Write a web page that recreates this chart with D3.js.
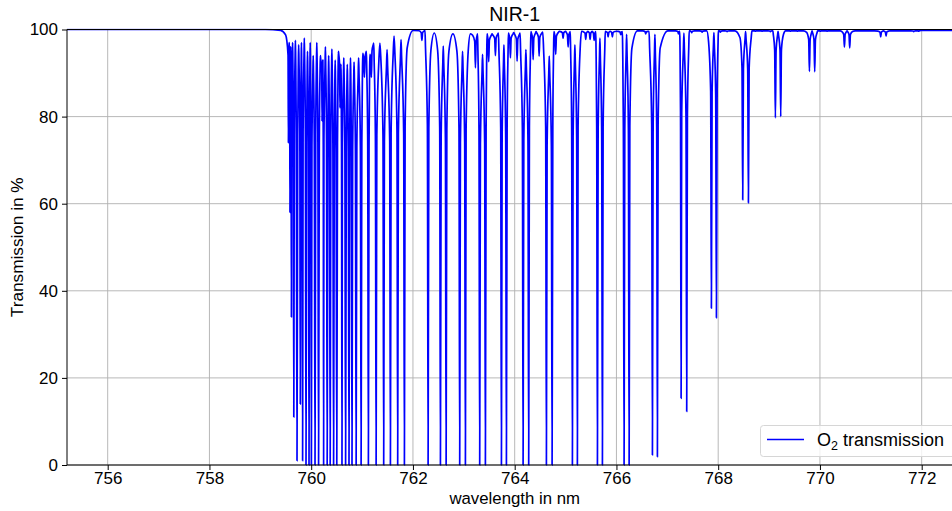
<!DOCTYPE html>
<html>
<head>
<meta charset="utf-8">
<style>
  body { margin: 0; background: #fff; font-family: "Liberation Sans", Arial, sans-serif; }
  svg { display: block; }
  .grid line { stroke: #b0b0b0; stroke-width: 0.9; }
  .axis text { font-size: 17px; fill: #000; font-family: "Liberation Sans", Arial, sans-serif; }
  .axis path, .axis line { stroke: #000; }
</style>
<title>NIR-1</title>
</head>
<body>
<div id="chart"></div>
<script src="https://cdn.jsdelivr.net/npm/d3@7"></script>
<script>
// flat part before the band head
var headNm = [755.2, 759.10, 759.40];
var headT = [100, 100, 99.8];

// absorption lines: centre (nm), minimum transmission (%), peak level up to next line (%)
var lineNm = [
  759.552, 759.583, 759.611, 759.658, 759.721, 759.786, 759.831, 759.898, 759.957, 760.004,
  760.075, 760.145, 760.214, 760.244, 760.314, 760.373, 760.440, 760.503, 760.566, 760.605,
  760.676, 760.743, 760.802, 760.883, 760.981, 761.046, 761.124, 761.183, 761.276, 761.425,
  761.557, 761.700, 761.832, 762.176, 762.298, 762.540, 762.652, 762.919, 763.031, 763.228,
  763.312, 763.424, 763.489, 763.621, 763.739, 763.837, 763.916, 764.047, 764.165, 764.275,
  764.362, 764.480, 764.623, 764.735, 764.806, 764.951, 765.050, 765.134, 765.232, 765.396,
  765.482, 765.561, 765.626, 765.724, 765.836, 765.920, 766.084, 766.150, 766.249, 766.575,
  766.707, 766.805, 767.218, 767.271, 767.381, 767.479, 767.684, 767.866, 767.965, 768.043,
  768.175, 768.482, 768.594, 768.731, 768.863, 769.026, 769.124, 769.229, 769.419, 769.557,
  769.793, 769.897, 770.009, 770.141, 770.314, 770.481, 770.585, 770.795, 770.952, 771.194,
  771.300, 771.444, 771.581, 771.843, 771.941
];
var lineMin = [
  74, 58, 34, 11, 1, 14, 1, 0, 0, 0,
  0, 0, 79, 0, 0, 0, 0, 0, 82, 0,
  0, 0, 0, 0, 0, 89, 0, 89, 0, 0,
  0, 0, 0, 97.5, 0, 0, 0, 0, 0, 91.2,
  0, 0, 92.6, 94, 0, 0, 93.5, 92.7, 0, 0,
  93.1, 93.9, 0, 0, 94.3, 98, 96, 0, 0, 97.7,
  97.7, 97.5, 0, 0, 98.3, 98.3, 98.8, 0, 0, 99,
  2.3, 1.9, 99, 15.3, 12.3, 99.3, 99.4, 36, 33.8, 99.4,
  99.5, 60.9, 60.2, 99.6, 99.6, 99.5, 79.7, 80, 99.6, 99.6,
  90.4, 90.3, 99.6, 99.6, 99.7, 96, 95.8, 99.7, 99.7, 98.3,
  98.5, 99.7, 99.7, 99.5, 99.6
];
var lineTop = [
  97, 96, 97, 97.5, 96.5, 97, 98, 95, 97, 94,
  97, 94, 93, 96, 94, 95.5, 93, 95, 92, 93.5,
  92, 93.5, 92.5, 93.5, 94.5, 95, 94.3, 96.9, 96.9, 95.4,
  98.5, 97.7, 99.8, 99.8, 99.2, 96.2, 99, 95, 99, 99,
  94.3, 99, 99, 99.2, 96.5, 99.2, 99.3, 99.2, 95.4, 99.5,
  99.5, 99.4, 93.9, 99.5, 99.6, 99.6, 99.5, 96.5, 99.6, 99.6,
  99.6, 99.5, 98, 99.6, 99.6, 99.6, 99.5, 98.9, 99.7, 99.6,
  98.9, 99.7, 99.6, 99.2, 99.7, 99.7, 99.7, 99.3, 99.7, 99.7,
  99.7, 99.5, 99.7, 99.7, 99.7, 99.7, 99.6, 99.7, 99.7, 99.7,
  99.7, 99.7, 99.7, 99.7, 99.7, 99.7, 99.7, 99.7, 99.7, 99.7,
  99.7, 99.7, 99.7, 99.7, 99.8
];
var tailNm = [772.8];
var tailT = [99.8];

var xTicks = [756, 758, 760, 762, 764, 766, 768, 770, 772];
var yTicks = [0, 20, 40, 60, 80, 100];

var width = 952, height = 511;
var margin = {top: 29.5, left: 67};
var plotW = 895.4, plotH = 435.5;

var svg = d3.select("#chart").append("svg")
  .attr("width", width)
  .attr("height", height);

var x = d3.scaleLinear().domain([755.2, 772.8]).range([margin.left, margin.left + plotW]);
var y = d3.scaleLinear().domain([0, 100]).range([margin.top + plotH, margin.top]);

svg.append("defs").append("clipPath").attr("id", "clip")
  .append("rect")
  .attr("x", margin.left).attr("y", margin.top - 1)
  .attr("width", plotW).attr("height", plotH + 2);

// grid
var grid = svg.append("g").attr("class", "grid");
grid.selectAll(".gx").data(xTicks).enter().append("line")
  .attr("x1", function (d) { return x(d); }).attr("x2", function (d) { return x(d); })
  .attr("y1", y(0)).attr("y2", y(100));
grid.selectAll(".gy").data(yTicks).enter().append("line")
  .attr("x1", x(755.2)).attr("x2", x(772.8))
  .attr("y1", function (d) { return y(d); }).attr("y2", function (d) { return y(d); });

// build the spectrum vertices: each line is a narrow dip between its neighbours
var pts = [];
for (var k = 0; k < headNm.length; k++) pts.push([headNm[k], headT[k]]);
for (var i = 0; i < lineNm.length; i++) {
  var c = lineNm[i];
  var sL = i > 0 ? c - lineNm[i - 1] : 0.2;
  var sR = i < lineNm.length - 1 ? lineNm[i + 1] - c : 0.2;
  var lv = i > 0 ? lineTop[i - 1] : headT[headT.length - 1];
  var rv = lineTop[i];
  var w1 = Math.min(0.014, 0.22 * Math.min(sL, sR));
  var w2L = Math.min(0.055, 0.42 * sL), w2R = Math.min(0.055, 0.42 * sR);
  var dL = lv - lineMin[i], dR = rv - lineMin[i];
  pts.push([c - w2L, lv - 0.04 * dL]);
  pts.push([c - w1, lv - 0.22 * dL]);
  pts.push([c, lineMin[i]]);
  pts.push([c + w1, rv - 0.22 * dR]);
  pts.push([c + w2R, rv - 0.04 * dR]);
  if (i < lineNm.length - 1) pts.push([c + sR / 2, rv]);
}
for (k = 0; k < tailNm.length; k++) pts.push([tailNm[k], tailT[k]]);

var line = d3.line()
  .x(function (d) { return x(d[0]); })
  .y(function (d) { return y(d[1]); })
  .curve(d3.curveMonotoneX);

svg.append("path")
  .datum(pts)
  .attr("clip-path", "url(#clip)")
  .attr("fill", "none")
  .attr("stroke", "#0000ff")
  .attr("stroke-width", 1.7)
  .attr("stroke-linejoin", "round")
  .attr("d", line);

// axes
var xAxis = svg.append("g").attr("class", "axis")
  .attr("transform", "translate(0," + y(0) + ")")
  .call(d3.axisBottom(x).tickValues(xTicks).tickSize(5).tickPadding(2).tickFormat(d3.format("d")));
xAxis.select(".domain").remove();
var yAxis = svg.append("g").attr("class", "axis")
  .attr("transform", "translate(" + margin.left + ",0)")
  .call(d3.axisLeft(y).tickValues(yTicks).tickSize(5).tickPadding(4));
yAxis.select(".domain").remove();

// spines (drawn over the data)
svg.append("line").attr("x1", margin.left).attr("x2", width).attr("y1", y(100)).attr("y2", y(100)).attr("stroke", "#000").attr("stroke-width", 1);
svg.append("line").attr("x1", margin.left).attr("x2", width).attr("y1", y(0)).attr("y2", y(0)).attr("stroke", "#000").attr("stroke-width", 1);
svg.append("line").attr("x1", margin.left).attr("x2", margin.left).attr("y1", y(0)).attr("y2", y(100)).attr("stroke", "#000").attr("stroke-width", 1);

// labels
svg.append("text").attr("x", x(764)).attr("y", 21).attr("text-anchor", "middle")
  .style("font-size", "19.5px").text("NIR-1");
svg.append("text").attr("x", x(764)).attr("y", 503.5).attr("text-anchor", "middle")
  .style("font-size", "16.8px").text("wavelength in nm");
svg.append("text").attr("transform", "translate(23," + (margin.top + plotH / 2) + ") rotate(-90)")
  .attr("text-anchor", "middle").style("font-size", "17.2px").text("Transmission in %");

// legend
var lg = svg.append("g");
lg.append("rect").attr("x", 760.5).attr("y", 425.5).attr("width", 200).attr("height", 31)
  .attr("rx", 3).attr("fill", "#fff").attr("fill-opacity", 0.8).attr("stroke", "#d6d6d6");
lg.append("line").attr("x1", 767).attr("x2", 804).attr("y1", 439.5).attr("y2", 439.5)
  .attr("stroke", "#0000ff").attr("stroke-width", 1.5);
var lt = lg.append("text").attr("x", 817).attr("y", 446).style("font-size", "18px");
lt.append("tspan").text("O");
lt.append("tspan").attr("dy", 4).style("font-size", "12.5px").text("2");
lt.append("tspan").attr("dy", -4).text(" transmission");
</script>
</body>
</html>
